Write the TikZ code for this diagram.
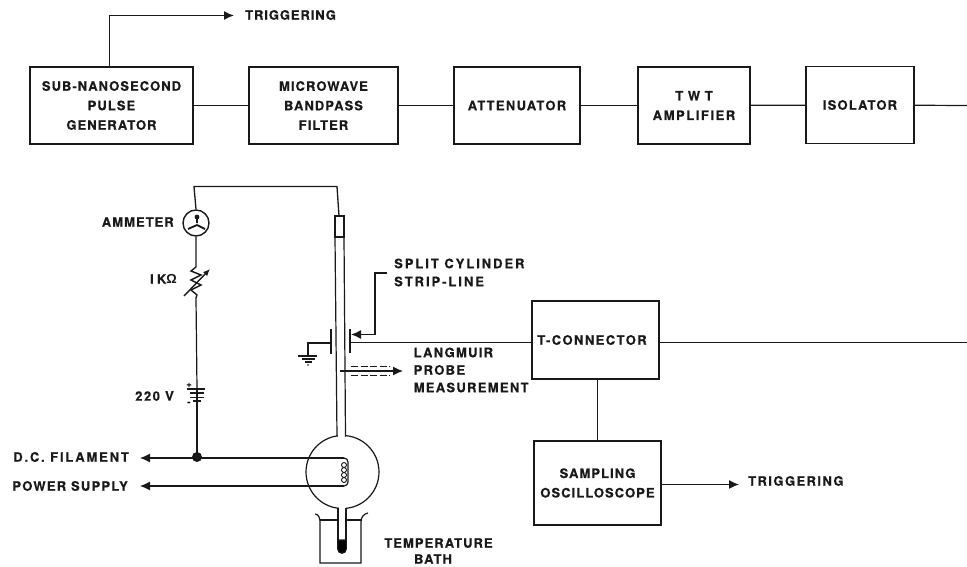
\documentclass[tikz,border=0pt]{standalone}
\usepackage{fontspec}
\setmainfont[BoldFeatures={FakeBold=0.35}]{TeX Gyre Heros}
\newfontfamily\omfont{Liberation Sans}
\newcommand{\ls}[1]{\addfontfeature{LetterSpace=#1}}
\usetikzlibrary{arrows.meta}
\tikzset{
  wire/.style={line width=1.2pt,black!90},
  blk/.style={draw=black!90,line width=1.5pt,fill=white,minimum height=77pt,align=center,inner sep=0pt},
  lbl/.style={font=\bfseries\fontsize{13pt}{19.5pt}\selectfont\ls{8},align=center,inner sep=0pt,text=black!90},
  arr/.style={wire,-{Latex[length=10pt,width=9pt]}},
}
\begin{document}
\begin{tikzpicture}[x=1pt,y=-1pt]
\useasboundingbox (0,0) rectangle (967,567);
% blocks
\node[blk,minimum width=163pt,lbl] (gen) at (111.5,105.5) {SUB-NANOSECOND\\PULSE\\GENERATOR};
\node[blk,minimum width=149pt,lbl] (bpf) at (323.5,105.5) {MICROWAVE\\BANDPASS\\FILTER};
\node[blk,minimum width=126pt,lbl] (att) at (517,105.5) {\ls{10}ATTENUATOR};
\node[blk,minimum width=112pt,lbl] (twt) at (694,105.5) {T W T\\\ls{12}AMPLIFIER};
\node[blk,minimum width=108pt,lbl] (iso) at (860,105) {\ls{9}ISOLATOR};
\node[blk,minimum width=127pt,minimum height=78pt,lbl] (tcon) at (595.5,340) {\ls{11}T-CONNECTOR\hspace*{7pt}};
\node[blk,minimum width=127pt,minimum height=84pt,lbl] (osc) at (597.5,483) {SAMPLING\\OSCILLOSCOPE};
\coordinate (eR1) at (967,105.5);
\coordinate (eR2) at (967,342.5);
\draw[wire] (gen) -- (bpf);
\draw[wire] (bpf) -- (att);
\draw[wire] (att) -- (twt);
\draw[wire] (twt) -- (iso);
\draw[wire] (iso) -- (eR1);
\draw[wire,line width=0.9pt] (tcon.east |- eR2) -- (eR2);
\draw[wire,line width=1.7pt] (tcon.south -| osc.north) -- (osc.north);
% triggering
\node[lbl,anchor=west] (trig1) at (245,15) {\ls{7}TRIGGERING};
\node[lbl,anchor=west] (trig2) at (748,481) {\ls{11}TRIGGERING};
\coordinate (t1) at (109.5,67);
\draw[arr,line width=1.4pt] (t1) -- (109.5,15.5) -- (234,15.5);
\draw[arr] (osc.east |- 0,484.5) -- (739,484.5);
% tube
\node[circle,draw=black!90,line width=1.2pt,minimum size=73pt,inner sep=0pt] (bulb) at (342.5,472) {};
\draw[wire] (335,216) rectangle (344,237);
\fill[white] (337.6,430) rectangle (344.8,440);
\fill[white] (338.5,504) rectangle (345.5,512);
\draw[wire] (335,237) -- (337,436.5);
\draw[wire] (344,237) -- (345.5,436.5);
\draw[wire] (338,507.5) -- (338,543) (346,507.5) -- (346,543);
\draw[wire,fill=black] (337.75,540) -- (346.25,540) -- (346.25,549) arc[start angle=0,end angle=180,radius=4.25] -- cycle;
% bath
\draw[wire] (315,514) to[out=0,in=90] (320,522) -- (320,563) -- (361,563) -- (361,522) to[out=90,in=190] (368,513);
\draw[wire] (320,520) -- (338,520) (346,520) -- (361,520);
% main circuit
\node[circle,draw=black!90,line width=1.4pt,minimum size=26pt,inner sep=0pt] (amm) at (196,223) {};
\draw[wire,line width=1.3pt] (amm.north) -- (194,186.5) -- (337,186.5) -- (339,216);
\draw[wire,line width=1.8pt] (197,223) -- (197,217) (197,225) -- (188,229) (197,225) -- (205,229);
\fill[black!90] (197,217) circle (2.4pt);
\coordinate (rt) at (196,267);
\coordinate (rb) at (196,298);
\draw[wire,line width=1.4pt] (amm.south) -- (rt) -- (191,271) -- (201,275) -- (191,280) -- (201,285) -- (191,290) -- (197,295) -- (rb);
\draw[wire,line width=1.4pt,-{Latex[length=7pt,width=6pt]}] (184,296) -- (210,269);
\coordinate (bt) at (197,389);
\coordinate (j) at (197,457);
\draw[wire] (rb) -- (bt);
\draw[wire,line width=1.4pt] (187,389) -- (205,389);
\draw[wire] (190,393) -- (204,393) (190,397.5) -- (204,397.5) (193,401) -- (201,401);
\draw[wire] (197,389) -- (j);
\node[font=\bfseries\fontsize{9pt}{9pt}\selectfont,inner sep=0pt] at (189,385) {+};
\node[font=\bfseries\fontsize{9pt}{9pt}\selectfont,inner sep=0pt] at (189,403.5) {-};
\fill[black!90] (j) circle (5pt);
% filament
\node[lbl,anchor=east] (dc) at (129,457) {\ls{14}D.C. FILAMENT};
\node[lbl,anchor=east] (ps) at (128,486) {\ls{9.5}POWER SUPPLY};
\coordinate (fa) at (140,458);
\coordinate (fb) at (140,486);
\draw[arr] (344,458) -- (fa);
\draw[arr] (344,486) -- (fb);
\draw[wire] (344,458) to[out=0,in=90] (348,462) -- (348,482) to[out=-90,in=0] (344,486);
\foreach \yy in {465,470,475,480}{\draw[wire,line width=0.9pt] (344,\yy) ellipse[x radius=2.5,y radius=2.5];}
% split cylinder
\draw[wire,line width=1.3pt] (331,329) -- (331,354);
\draw[wire,line width=1.3pt] (350,329) -- (350,353);
\draw[wire] (331,343) -- (308,343) -- (308,356);
\draw[wire,line width=1.5pt] (298,356) -- (317,356);
\draw[wire] (302,359) -- (315,359) (305,362) -- (312,362);
\fill[black!90] (308,365) circle (0.9pt);
\draw[wire] (350,342.5) -- (tcon.west |- 350,342.5);
\draw[wire,line width=1.4pt,-{Latex[length=10pt,width=9pt]}] (387,273) -- (375,273) -- (375,334.5) -- (351,334.5);
\node[lbl,anchor=west,align=left,font=\bfseries\fontsize{13pt}{18pt}\selectfont\ls{15}] (split) at (394,272.5) {SPLIT CYLINDER\\STRIP-LINE};
% probe
\draw[wire,-{Latex[length=10pt,width=9pt]}] (340,371) -- (403,371);
\draw[wire,dash pattern=on 7pt off 2.5pt,line width=0.8pt] (351,366) -- (390,366) (351,375) -- (390,375);
\node[lbl,anchor=west,align=left,font=\bfseries\fontsize{13pt}{17.5pt}\selectfont\ls{10}] (lang) at (413.5,370) {LANGMUIR\\PROBE\\MEASUREMENT};
% labels
\node[lbl,anchor=east] (ammL) at (174,222) {AMMETER};
\node[lbl,anchor=east] (r) at (177,279) {\ls{25}IK{\omfont Ω}};
\node[lbl,anchor=east] (v) at (174,396) {\ls{12}220 V};
\node[lbl] (bathL) at (438.5,551) {TEMPERATURE\\[-3.5pt]BATH\hspace*{11pt}};
\end{tikzpicture}
\end{document}
